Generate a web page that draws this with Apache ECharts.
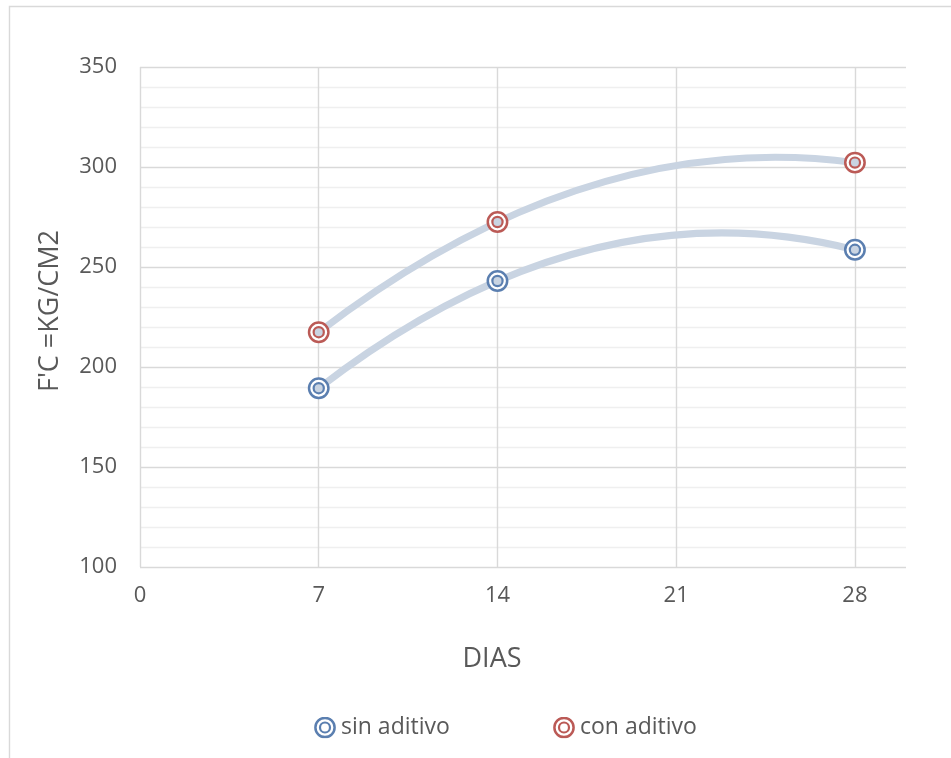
<!DOCTYPE html>
<html>
<head>
<meta charset="utf-8">
<script src="https://cdn.jsdelivr.net/npm/echarts@6/dist/echarts.min.js"></script>
<style>
  html, body { margin: 0; padding: 0; background: #fff; }
  #chart { width: 951px; height: 758px; }
</style>
</head>
<body>
<div id="chart"></div>
<script>
// Compressive strength (kg/cm2) by curing age (days)
const dias = [7, 14, 28];
const sinAditivo = [189.4, 243, 258.6];
const conAditivo = [217.4, 272.5, 302.2];
const xTicks = [0, 7, 14, 21, 28];
const yTicks = [100, 150, 200, 250, 300, 350];

const TEXT = '#595959';
const GRID = '#d9d9d9';
const MINOR = '#efefef';
const TREND = '#c9d4e2';
const BLUE = '#5b7fb0';
const RED = '#bb5a56';
const FONT = '"Open Sans", "Liberation Sans", sans-serif';

// Second-order polynomial trend fitted through the three measurements
function quadFit(xs, ys) {
  const [x0, x1, x2] = xs, [y0, y1, y2] = ys;
  const d01 = (y1 - y0) / (x1 - x0);
  const d12 = (y2 - y1) / (x2 - x1);
  const a = (d12 - d01) / (x2 - x0);
  const b = d01 - a * (x0 + x1);
  const c = y0 - a * x0 * x0 - b * x0;
  return { a, b, c };
}

// The fitted parabola drawn exactly as a quadratic Bezier between the end points
function trendRenderer(xs, ys) {
  const { a, b, c } = quadFit(xs, ys);
  const xa = xs[0], xb = xs[xs.length - 1];
  const f = x => a * x * x + b * x + c;
  const slope = 2 * a * xa + b;
  const cx = (xa + xb) / 2;
  const cy = f(xa) + slope * (cx - xa);
  return function (params, api) {
    const p0 = api.coord([xa, f(xa)]);
    const p1 = api.coord([xb, f(xb)]);
    const cp = api.coord([cx, cy]);
    return {
      type: 'bezierCurve',
      shape: { x1: p0[0], y1: p0[1], x2: p1[0], y2: p1[1], cpx1: cp[0], cpy1: cp[1] },
      style: { fill: null, stroke: TREND, lineWidth: 7, lineCap: 'round' }
    };
  };
}

// Double-ring marker
function ringRenderer(color) {
  return function (params, api) {
    const p = api.coord([api.value(0), api.value(1)]);
    return {
      type: 'group',
      children: [
        { type: 'circle', shape: { cx: p[0], cy: p[1], r: 9.7 },
          style: { fill: '#fff', stroke: color, lineWidth: 2.5 } },
        { type: 'circle', shape: { cx: p[0], cy: p[1], r: 5.1 },
          style: { fill: TREND, stroke: color, lineWidth: 2.2 } }
      ]
    };
  };
}

function ringIcon(color) {
  const svg = '<svg xmlns="http://www.w3.org/2000/svg" width="22" height="22">' +
    '<circle cx="11" cy="11" r="9.6" fill="#fff" stroke="' + color + '" stroke-width="2.5"/>' +
    '<circle cx="11" cy="11" r="5" fill="none" stroke="' + color + '" stroke-width="2.2"/></svg>';
  return 'image://data:image/svg+xml;charset=utf-8,' + encodeURIComponent(svg);
}

const pairs = (xs, ys) => xs.map((x, i) => [x, ys[i]]);

const chart = echarts.init(document.getElementById('chart'), null, { renderer: 'canvas' });

const legendText = { color: TEXT, fontSize: 23, fontFamily: FONT };

chart.setOption({
  animation: false,
  backgroundColor: '#fff',
  grid: { left: 140, top: 67, right: 45, bottom: 191 },
  xAxis: {
    type: 'value',
    min: xTicks[0],
    max: 30,
    interval: xTicks[1] - xTicks[0],
    axisLine: { show: false },
    axisTick: { show: false },
    axisLabel: {
      color: TEXT, fontSize: 22, fontFamily: FONT, margin: 18,
      showMaxLabel: false,
      formatter: v => (xTicks.indexOf(v) >= 0 ? String(v) : '')
    },
    splitLine: { show: true, showMaxLine: false, lineStyle: { color: GRID, width: 1.4 } }
  },
  yAxis: {
    type: 'value',
    min: yTicks[0],
    max: yTicks[yTicks.length - 1],
    interval: yTicks[1] - yTicks[0],
    axisLine: { show: false },
    axisTick: { show: false },
    minorTick: { show: false, splitNumber: 5 },
    minorSplitLine: { show: true, lineStyle: { color: MINOR, width: 1.4 } },
    axisLabel: { color: TEXT, fontSize: 22, fontFamily: FONT, margin: 23 },
    splitLine: { show: true, lineStyle: { color: GRID, width: 1.4 } }
  },
  legend: [
    {
      left: 309, top: 711, itemWidth: 22, itemHeight: 22, itemGap: 0,
      textStyle: legendText,
      data: [{ name: 'sin aditivo', icon: ringIcon(BLUE) }]
    },
    {
      left: 548, top: 711, itemWidth: 22, itemHeight: 22, itemGap: 0,
      textStyle: legendText,
      data: [{ name: 'con aditivo', icon: ringIcon(RED) }]
    }
  ],
  graphic: [
    {
      type: 'rect', silent: true, z: -10,
      shape: { x: 9.5, y: 6.5, width: 1000, height: 1000 },
      style: { fill: null, stroke: GRID, lineWidth: 1.4 }
    },
    {
      type: 'text', x: 492, y: 659,
      style: { text: 'DIAS', fill: TEXT, fontSize: 27, fontFamily: FONT,
               align: 'center', verticalAlign: 'middle' }
    },
    {
      type: 'text', x: 50, y: 311, rotation: Math.PI / 2,
      style: { text: "F'C =KG/CM2", fill: TEXT, fontSize: 27, fontFamily: FONT,
               align: 'center', verticalAlign: 'middle' }
    }
  ],
  series: [
    {
      name: 'trend sin', type: 'custom', z: 2, silent: true,
      renderItem: trendRenderer(dias, sinAditivo),
      data: [[dias[0], sinAditivo[0]]]
    },
    {
      name: 'trend con', type: 'custom', z: 2, silent: true,
      renderItem: trendRenderer(dias, conAditivo),
      data: [[dias[0], conAditivo[0]]]
    },
    {
      name: 'sin aditivo', type: 'custom', z: 3,
      itemStyle: { color: BLUE },
      renderItem: ringRenderer(BLUE),
      data: pairs(dias, sinAditivo)
    },
    {
      name: 'con aditivo', type: 'custom', z: 3,
      itemStyle: { color: RED },
      renderItem: ringRenderer(RED),
      data: pairs(dias, conAditivo)
    }
  ]
});
</script>
</body>
</html>
